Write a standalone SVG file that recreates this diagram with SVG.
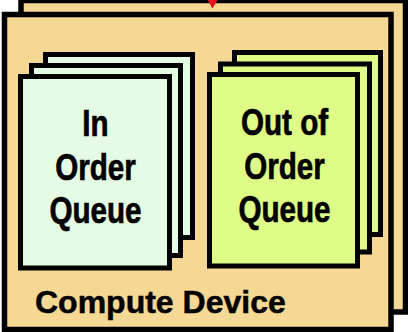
<svg xmlns="http://www.w3.org/2000/svg" width="408" height="332" viewBox="0 0 408 332">
  <defs>
    <style>
      .box { fill: #F5D893; stroke: #000; stroke-width: 5.5; }
      .page { stroke: #000; stroke-width: 5; }
      .inq { fill: #E5FCE4; }
      .outq { fill: #DFFD86; }
      .qtxt { font-family: "Liberation Sans", Arial, sans-serif; font-weight: bold; font-size: 37px; fill: #000; stroke: #000; stroke-width: 0.7; text-anchor: middle; }
      .dtxt { font-family: "Liberation Sans", Arial, sans-serif; font-weight: bold; font-size: 32px; fill: #000; stroke: #000; stroke-width: 0.5; }
    </style>
  </defs>
  <rect width="408" height="332" fill="#FFFFFF"/>

  <g id="compute-device-back">
    <rect class="box" x="21" y="0.5" width="384.5" height="311.5"/>
  </g>

  <g id="connectors">
    <polygon points="207.5,0 217.5,0 212.5,8.5" fill="#E8141C"/>
  </g>

  <g id="compute-device">
    <rect class="box" x="4.5" y="14.5" width="386.5" height="315"/>
    <text class="dtxt" x="35" y="313">Compute Device</text>
  </g>

  <g id="in-order-queue">
    <rect class="page inq" x="45.5" y="54.5" width="147" height="183"/>
    <rect class="page inq" x="31.5" y="65.5" width="149" height="190"/>
    <rect class="page inq" x="20.5" y="76.5" width="149" height="191.5"/>
    <g transform="translate(95.5,0) scale(0.80,1)">
      <text class="qtxt" x="0" y="136.5">In</text>
      <text class="qtxt" x="0" y="180">Order</text>
      <text class="qtxt" x="0" y="223">Queue</text>
    </g>
  </g>

  <g id="out-of-order-queue">
    <rect class="page outq" x="234.5" y="52.5" width="146" height="182"/>
    <rect class="page outq" x="220.5" y="64" width="149" height="188"/>
    <rect class="page outq" x="209.5" y="74.5" width="148" height="191.5"/>
    <g transform="translate(284.5,0) scale(0.80,1)">
      <text class="qtxt" x="0" y="135">Out of</text>
      <text class="qtxt" x="0" y="179">Order</text>
      <text class="qtxt" x="0" y="222">Queue</text>
    </g>
  </g>
</svg>
